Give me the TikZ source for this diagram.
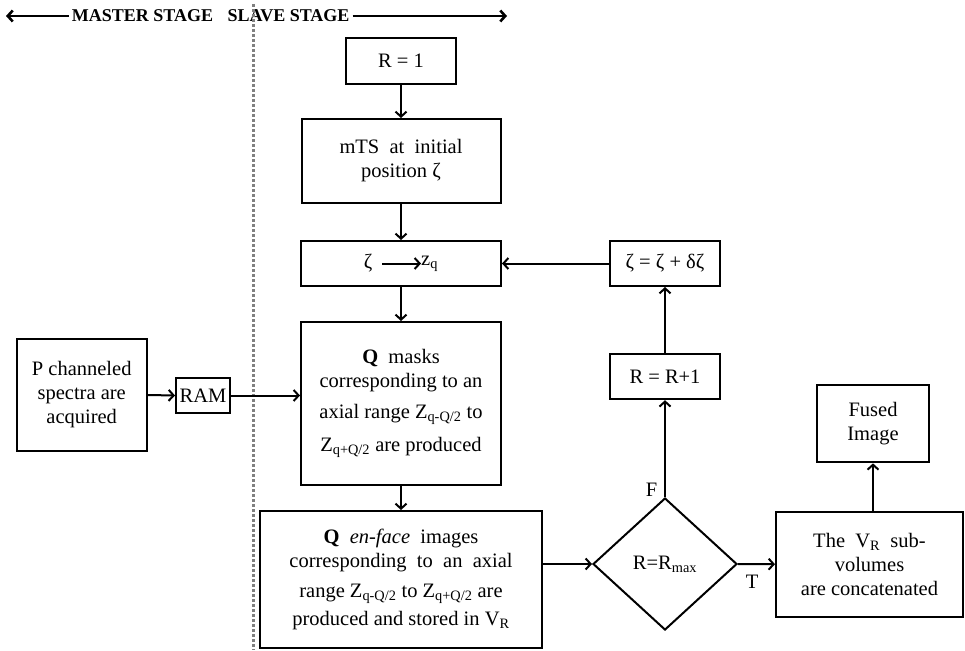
\documentclass[tikz,border=0pt]{standalone}
\usepackage{fontspec}
\setmainfont{Liberation Serif}
\usetikzlibrary{arrows.meta,shapes.geometric}

\begin{document}
\begin{tikzpicture}[x=1pt, y=-1pt,
        box/.style = {draw, line width=2pt, align=center, inner sep=0pt,
                      font=\fontsize{20.5}{24}\selectfont},
        cond/.style = {diamond, draw, line width=2pt, inner sep=0pt,
                       minimum width=144pt, minimum height=132pt,
                       font=\fontsize{20.5}{24}\selectfont},
        stage/.style = {inner sep=3pt, font=\fontsize{18}{20}\selectfont\bfseries},
        flow/.style = {->, line width=2pt},
        tag/.style = {inner sep=0pt, font=\fontsize{20.5}{24}\selectfont},
        >={Straight Barb[length=5pt,width=11pt]}
    ]
        \useasboundingbox (0,0) rectangle (965,650);

        % stage header
        \node[stage] (master) at (142.5,16) {MASTER STAGE};
        \node[stage] (slave) at (288.5,16) {SLAVE STAGE};
        \coordinate (lend) at (6,16);
        \coordinate (rend) at (507,16);
        \draw[flow, line width=2.6pt] (master.west) -- (lend);
        \draw[flow, line width=2.6pt] (slave.east) -- (rend);
        \draw[gray, dotted, line width=3pt] (253,4) -- (253,650);

        % master stage
        \node[box, minimum width=130pt, minimum height=112pt] (spectra) at (81.7,395)
            {P channeled\\spectra are\\acquired};
        \node[box, minimum width=54pt, minimum height=35.6pt] (ram) at (203,395.5) {RAM};

        % slave stage
        \node[box, minimum width=110pt, minimum height=46pt] (rinit) at (401,61) {R = 1};
        \node[box, minimum width=199pt, minimum height=84pt] (mts) at (401,161)
            {mTS\ \ at\ \ initial\\position ζ};
        \node[box, minimum width=200pt, minimum height=45pt] (zq) at (401,263.5) {};
        \node[tag] (zsym) at (368,263.5) {ζ};
        \node[tag, anchor=west] (zqsym) at (421,264) {z\textsubscript{q}};
        \node[box, minimum width=110pt, minimum height=45pt] (dzeta) at (665,263.5)
            {ζ = ζ + δζ};
        \node[box, minimum width=200pt, minimum height=163pt] (masks) at (401,403.5)
            {\textbf{Q}\ \ masks\\corresponding to an\\[7pt]
             axial range Z\textsubscript{q-Q/2} to\\[9pt]
             Z\textsubscript{q+Q/2} are produced};
        \node[box, minimum width=282pt, minimum height=137pt] (enface) at (401,579.5)
            {\textbf{Q}\ \ \textit{en-face}\ \ images\\corresponding\ \ to\ \ an\ \ axial\\[6pt]
             range Z\textsubscript{q-Q/2} to Z\textsubscript{q+Q/2} are\\[4pt]
             produced and stored in V\textsubscript{R}};
        \node[cond] (rmax) at (665,564) {R=R\textsubscript{max}};
        \node[box, minimum width=110pt, minimum height=45pt] (rinc) at (665,376.7) {R = R+1};
        \node[box, minimum width=187pt, minimum height=105pt] (concat) at (869.5,564.2)
            {The\ \ V\textsubscript{R}\ \ sub-\\volumes\\are concatenated};
        \node[box, minimum width=112.6pt, minimum height=77.3pt] (fused) at (873,423.7)
            {Fused\\Image};
        \node[tag] (lblf) at (651.5,490) {F};
        \node[tag] (lblt) at (752,581.5) {T};

        % connectors
        \draw[flow] (zsym.east) ++(10,0) coordinate (zarr) -- (zarr -| zqsym.west);
        \draw[flow] (spectra.east) -- (ram.west);
        \draw[flow] (ram.east) -- (ram.east -| masks.west);
        \draw[flow] (rinit) -- (mts);
        \draw[flow] (mts) -- (zq);
        \draw[flow] (zq) -- (masks);
        \draw[flow] (masks) -- (enface);
        \draw[flow] (enface.east |- rmax.west) -- (rmax.west);
        \draw[flow] (rmax.north) -- (rinc.south);
        \draw[flow] (rinc) -- (dzeta);
        \draw[flow] (dzeta) -- (zq);
        \draw[flow] (rmax.east) -- (concat.west);
        \draw[flow] (concat.north -| fused.south) -- (fused.south);
\end{tikzpicture}
\end{document}
